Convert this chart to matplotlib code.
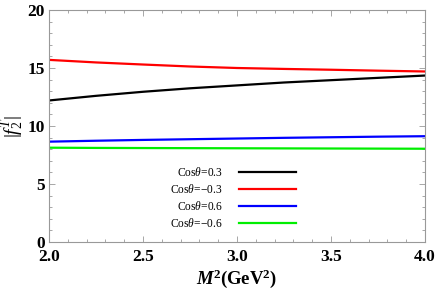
import matplotlib
matplotlib.use("Agg")
import matplotlib.pyplot as plt
import numpy as np
from matplotlib.ticker import MultipleLocator, FormatStrFormatter

plt.rcParams["font.family"] = ["Liberation Serif", "DejaVu Serif"]
plt.rcParams["mathtext.fontset"] = "custom"
plt.rcParams["mathtext.rm"] = "Liberation Serif"
plt.rcParams["mathtext.it"] = "Liberation Serif:italic"
plt.rcParams["mathtext.bf"] = "Liberation Serif:bold"
plt.rcParams["mathtext.bfit"] = "Liberation Serif:italic:bold"

# M^2 (GeV^2) sample points and |f_2^T| values
m2 = [2.0, 2.25, 2.5, 2.75, 3.0, 3.25, 3.5, 3.75, 4.0]
cos_p03 = [12.2, 12.6, 12.95, 13.25, 13.5, 13.75, 13.95, 14.15, 14.35]
cos_m03 = [15.7, 15.48, 15.3, 15.13, 15.0, 14.92, 14.85, 14.77, 14.7]
cos_p06 = [8.65, 8.73, 8.8, 8.86, 8.92, 8.98, 9.03, 9.08, 9.12]
cos_m06 = [8.13, 8.11, 8.1, 8.09, 8.08, 8.07, 8.06, 8.05, 8.04]

labels = [r"Cos$\theta$=0.3", r"Cos$\theta$=$-$0.3", r"Cos$\theta$=0.6", r"Cos$\theta$=$-$0.6"]
colors = ["#000000", "#ff0000", "#0000ff", "#00ee00"]

fig = plt.figure(figsize=(4.36, 2.92), dpi=100)
ax = fig.add_axes([49 / 436, 1 - 242 / 292, 376 / 436, 232 / 292])

for ys, lab, c in zip([cos_p03, cos_m03, cos_p06, cos_m06], labels, colors):
    ax.plot(m2, ys, color=c, linewidth=1.6, label=lab)

ax.set_xlim(2.0, 4.0)
ax.set_ylim(0, 20)
ax.xaxis.set_major_locator(MultipleLocator(0.5))
ax.xaxis.set_minor_locator(MultipleLocator(0.1))
ax.yaxis.set_major_locator(MultipleLocator(5))
ax.yaxis.set_minor_locator(MultipleLocator(1))
ax.xaxis.set_major_formatter(FormatStrFormatter("%.1f"))
ax.yaxis.set_major_formatter(FormatStrFormatter("%d"))

for s in ax.spines.values():
    s.set_color("#999999")
    s.set_linewidth(0.8)
ax.tick_params(which="both", direction="in", top=True, right=True, color="#999999", width=0.6)
ax.tick_params(which="major", length=4, labelsize=12.5)
ax.tick_params(which="minor", length=2)
ax.tick_params(axis="x", which="major", pad=5)
ax.tick_params(axis="y", which="major", pad=3)
for t in ax.get_xticklabels() + ax.get_yticklabels():
    t.set_fontweight("bold")

ax.set_xlabel(r"$\mathbfit{M}^{\mathbf{2}}$(GeV$^{\mathbf{2}}$)", fontsize=13.5, fontweight="bold", labelpad=2)
ax.set_ylabel(r"$|f_2^T|$", fontsize=14, labelpad=1)

ax.legend(loc="center", bbox_to_anchor=(0.49, 0.19), frameon=False, markerfirst=False,
          fontsize=8.3, handlelength=5.0, labelspacing=0.35, handletextpad=1.4)

fig.savefig("out.png", dpi=100)
